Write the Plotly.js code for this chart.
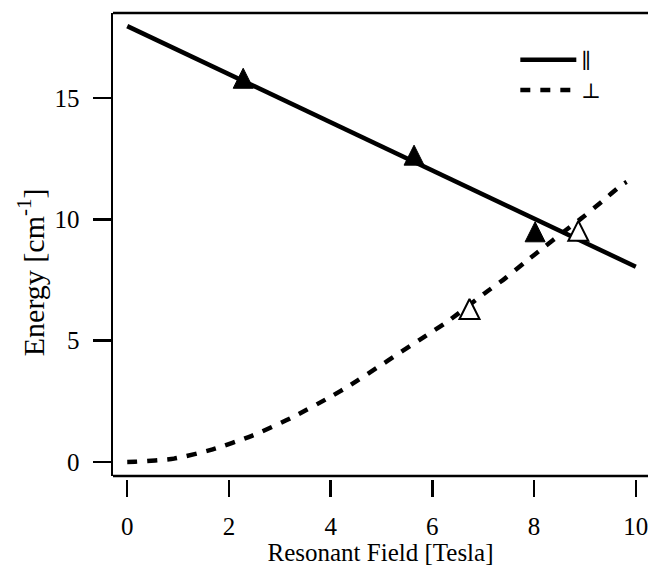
<!DOCTYPE html>
<html><head><meta charset="utf-8">
<script src="https://cdn.plot.ly/plotly-3.0.1.min.js"></script>
<style>html,body{margin:0;padding:0;background:#fff}</style>
</head><body><div id="chart" style="width:648px;height:566px"></div>
<script>
// Parallel orientation: straight-line fit (field in Tesla, energy in cm^-1)
const parFieldT = [0, 10];
const parEnergy = [17.97, 8.05];
// Perpendicular orientation: curve
const perpFieldT = [0, 0.15, 0.92, 1.68, 2.45, 3.21, 3.99, 4.37, 5.89, 6.28, 7.05, 7.43, 7.81, 8.18, 8.57, 8.97, 9.33, 9.72, 9.82];
const perpEnergy = [0, 0.01, 0.14, 0.52, 1.08, 1.80, 2.68, 3.15, 5.23, 5.76, 6.99, 7.57, 8.22, 8.83, 9.47, 10.11, 10.73, 11.42, 11.55];
// Observed resonances
const parObsField = [2.28, 5.64, 8.02];
const parObsEnergy = [15.82, 12.65, 9.49];
const perpObsField = [6.73, 8.87];
const perpObsEnergy = [6.31, 9.53];
const xTicks = [0, 2, 4, 6, 8, 10];
const yTicks = [0, 5, 10, 15];
const legendLabels = ['\u2225', '\u22A5'];

const serif = 'Liberation Serif';
const mSize = 20;

const traces = [
  {x: parFieldT, y: parEnergy, mode: 'lines', name: legendLabels[0], legendgroup: 'a',
   line: {color: '#000', width: 4.5}},
  {x: perpFieldT, y: perpEnergy, mode: 'lines', name: legendLabels[1], legendgroup: 'b',
   line: {color: '#000', width: 4.5, dash: '10px,10px', shape: 'spline', smoothing: 0.6}},
  {x: parObsField, y: parObsEnergy, mode: 'markers', showlegend: false,
   marker: {symbol: 'arrow-down', angle: 180, size: mSize, standoff: mSize / 2, color: '#000', line: {color: '#000', width: 1}}},
  {x: perpObsField, y: perpObsEnergy, mode: 'markers', showlegend: false,
   marker: {symbol: 'arrow-down', angle: 180, size: mSize, standoff: mSize / 2, color: '#fff', line: {color: '#000', width: 2}}}
];

const layout = {
  width: 648, height: 566,
  margin: {l: 113, r: 0, t: 13, b: 87, pad: 0},
  paper_bgcolor: '#fff', plot_bgcolor: '#fff',
  font: {family: serif, color: '#000', size: 25},
  showlegend: true,
  legend: {x: 0.752, y: 0.943, xanchor: 'left', yanchor: 'top', bgcolor: 'rgba(0,0,0,0)', itemwidth: 56,
           font: {family: 'DejaVu Serif', size: 21, color: '#000'}, tracegroupgap: 0},
  xaxis: {range: [-0.28, 10.24], anchor: 'free', position: 0, showline: false, showgrid: false, zeroline: false,
          tickvals: xTicks, ticktext: xTicks.map(String), ticks: 'outside', ticklen: 17, tickwidth: 2.5, tickcolor: '#000',
          ticklabelstandoff: 8, ticklabeloverflow: 'allow', tickfont: {family: serif, size: 25, color: '#000'},
          title: {text: 'Resonant Field [Tesla]', font: {family: serif, size: 25, color: '#000'}, standoff: 0}},
  yaxis: {range: [-0.577, 18.51], domain: [3 / 466, 1], showline: true, linewidth: 2.5, linecolor: '#000',
          showgrid: false, zeroline: false,
          tickvals: yTicks, ticktext: yTicks.map(String), ticks: 'outside', ticklen: 18, tickwidth: 2.5, tickcolor: '#000',
          ticklabelstandoff: 8, tickfont: {family: serif, size: 25, color: '#000'}},
  shapes: [
    {type: 'line', xref: 'paper', yref: 'y domain', x0: 0, x1: 1, y0: 1, y1: 1, line: {color: '#000', width: 2.5}},
    {type: 'line', xref: 'paper', yref: 'y domain', x0: 0, x1: 1, y0: 0, y1: 0, line: {color: '#000', width: 2.5}}
  ],
  annotations: [
    {text: 'Energy [cm<sup>-1</sup>]', xref: 'paper', yref: 'paper', x: -0.153, y: 0.444,
     xanchor: 'center', yanchor: 'middle', textangle: -90, showarrow: false,
     font: {family: serif, size: 30, color: '#000'}}
  ]
};

Plotly.newPlot('chart', traces, layout, {displayModeBar: false, staticPlot: true});
</script></body></html>
